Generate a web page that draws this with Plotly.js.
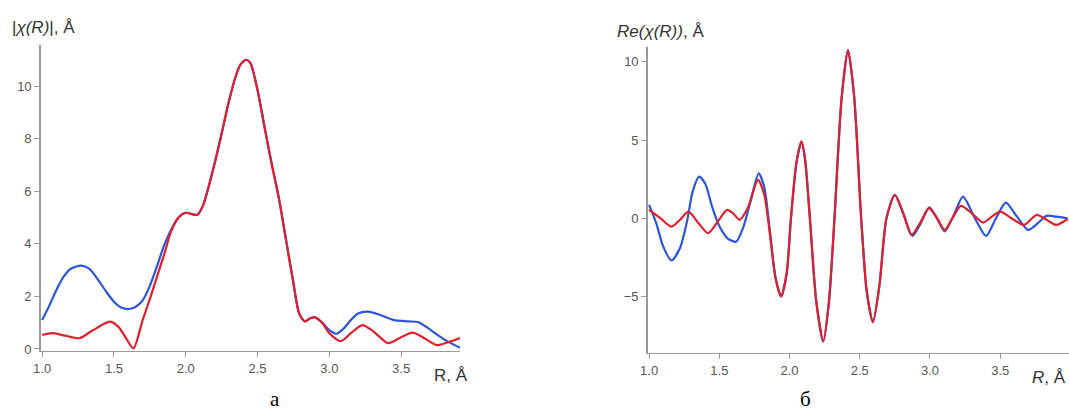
<!DOCTYPE html>
<html><head><meta charset="utf-8">
<script src="https://cdn.plot.ly/plotly-3.0.1.min.js"></script>
<style>html,body{margin:0;padding:0;background:#fff}#c{width:1069px;height:414px}</style>
</head><body><div id="c"></div>
<script>
// Panel a: |chi(R)|
const magR_blue = [1.00,1.05,1.10,1.15,1.20,1.27,1.33,1.40,1.45,1.50,1.55,1.60,1.65,1.70,1.75,1.80,1.85,1.90,1.95,2.00,2.05,2.08,2.12,2.18,2.24,2.30,2.35,2.38,2.42,2.45,2.50,2.55,2.60,2.65,2.70,2.75,2.79,2.83,2.87,2.90,2.95,3.00,3.05,3.10,3.15,3.20,3.27,3.35,3.45,3.55,3.62,3.68,3.75,3.82,3.91];
const magV_blue = [1.10,1.65,2.25,2.75,3.05,3.17,3.05,2.55,2.15,1.80,1.58,1.52,1.60,1.85,2.40,3.15,3.95,4.55,5.00,5.18,5.12,5.10,5.45,6.60,7.95,9.40,10.40,10.80,11.00,10.88,9.85,8.40,7.00,5.70,4.10,2.50,1.35,1.05,1.18,1.20,1.00,0.72,0.58,0.78,1.10,1.35,1.42,1.30,1.10,1.05,1.02,0.82,0.55,0.30,0.05];
const magR_red = [1.00,1.07,1.15,1.26,1.35,1.47,1.53,1.58,1.636,1.70,1.75,1.80,1.85,1.90,1.95,2.00,2.05,2.08,2.12,2.18,2.24,2.30,2.35,2.38,2.42,2.45,2.50,2.55,2.60,2.65,2.70,2.75,2.79,2.83,2.87,2.90,2.95,3.00,3.08,3.15,3.23,3.30,3.41,3.50,3.58,3.65,3.75,3.85,3.91];
const magV_red = [0.53,0.60,0.52,0.41,0.70,1.04,0.85,0.45,0.02,1.10,1.90,2.75,3.60,4.50,5.00,5.18,5.12,5.10,5.45,6.60,7.95,9.40,10.40,10.80,11.00,10.88,9.85,8.40,7.00,5.70,4.10,2.50,1.35,1.05,1.18,1.20,1.00,0.60,0.30,0.60,0.91,0.70,0.22,0.45,0.62,0.45,0.15,0.30,0.42];

// Panel b: Re(chi(R))
const reR_blue = [1.00,1.05,1.10,1.16,1.22,1.27,1.31,1.356,1.40,1.45,1.50,1.56,1.62,1.67,1.72,1.78,1.82,1.86,1.90,1.94,1.98,2.01,2.05,2.085,2.11,2.145,2.19,2.24,2.28,2.32,2.37,2.416,2.46,2.51,2.55,2.594,2.64,2.69,2.75,2.81,2.875,2.93,2.995,3.05,3.105,3.17,3.235,3.32,3.40,3.47,3.54,3.62,3.70,3.77,3.83,3.90,3.98];
const reV_blue = [0.85,-0.3,-1.8,-2.7,-1.9,-0.2,1.7,2.66,2.2,0.7,-0.5,-1.3,-1.5,-0.6,1.0,2.87,2.0,-0.8,-3.8,-5.0,-3.5,0.0,3.6,4.9,3.8,0.0,-5.3,-7.88,-5.4,0.0,7.6,10.75,7.8,0.0,-4.7,-6.65,-4.3,0.0,1.49,0.3,-1.13,-0.4,0.7,0.0,-0.85,0.2,1.38,0.0,-1.13,0.0,1.0,0.1,-0.75,-0.3,0.15,0.1,0.0];
const reR_red = [1.00,1.08,1.16,1.22,1.28,1.35,1.42,1.49,1.555,1.60,1.645,1.70,1.776,1.82,1.86,1.90,1.94,1.98,2.01,2.05,2.085,2.11,2.145,2.19,2.24,2.28,2.32,2.37,2.416,2.46,2.51,2.55,2.594,2.64,2.69,2.75,2.81,2.868,2.93,2.993,3.05,3.105,3.16,3.22,3.30,3.38,3.44,3.50,3.58,3.67,3.76,3.83,3.90,3.98];
const reV_red = [0.53,0.0,-0.54,-0.1,0.42,-0.3,-0.96,-0.2,0.53,0.3,-0.1,0.6,2.45,1.5,-1.0,-3.8,-5.0,-3.5,0.0,3.6,4.9,3.8,0.0,-5.3,-7.88,-5.4,0.0,7.6,10.75,7.8,0.0,-4.7,-6.65,-4.3,0.0,1.49,0.3,-1.07,-0.3,0.64,0.0,-0.75,0.0,0.79,0.3,-0.28,0.1,0.42,0.0,-0.43,0.21,-0.1,-0.43,-0.05];

const xTicks = [1.0,1.5,2.0,2.5,3.0,3.5];
const xTickText = ["1.0","1.5","2.0","2.5","3.0","3.5"];
const yTicksA = [0,2,4,6,8,10];
const yTicksB = [-5,0,5,10];

const BLUE = 'rgb(45,85,215)', RED = 'rgb(222,32,45)';
const W = 1069, H = 414;
const px = v => v / W, py = v => 1 - v / H;

const line = c => ({color: c, width: 2.2, shape: 'spline', smoothing: 0.7});
const traces = [
  {x: magR_blue, y: magV_blue, mode: 'lines', line: line(BLUE), xaxis: 'x', yaxis: 'y'},
  {x: magR_red, y: magV_red, mode: 'lines', line: line(RED), xaxis: 'x', yaxis: 'y'},
  {x: reR_blue, y: reV_blue, mode: 'lines', line: line(BLUE), xaxis: 'x2', yaxis: 'y2'},
  {x: reR_red, y: reV_red, mode: 'lines', line: line(RED), xaxis: 'x2', yaxis: 'y2'}
];

const tickFont = {family: 'Liberation Sans, Arial, sans-serif', size: 13, color: '#555'};
const axBase = {
  showgrid: false, zeroline: false, showline: true, linecolor: '#9a9a9a', linewidth: 1.5,
  ticks: 'outside', ticklen: 5, tickcolor: '#9a9a9a', tickwidth: 1, tickfont: tickFont, fixedrange: true
};

const layout = {
  width: W, height: H, margin: {l: 0, r: 0, t: 0, b: 0},
  paper_bgcolor: '#fff', plot_bgcolor: '#fff', showlegend: false,
  xaxis: Object.assign({}, axBase, {domain: [px(40.7), px(460)], range: [0.99, 3.91], tickvals: xTicks, ticktext: xTickText, anchor: 'y'}),
  yaxis: Object.assign({}, axBase, {domain: [1 - 350.7 / H, 1 - 45 / H], range: [-0.065, 11.56], tickvals: yTicksA, anchor: 'x'}),
  xaxis2: Object.assign({}, axBase, {domain: [px(647.7), 1], range: [0.99, 3.99], tickvals: xTicks, ticktext: xTickText, anchor: 'y2'}),
  yaxis2: Object.assign({}, axBase, {domain: [1 - 352.7 / H, 1 - 46.7 / H], range: [-8.6, 10.97], tickvals: yTicksB, anchor: 'x2'}),
  annotations: [
    {xref: 'paper', yref: 'paper', x: px(10), y: py(28), xanchor: 'left', yanchor: 'middle', showarrow: false,
     text: '|<i>χ(R)</i>|, Å', font: {family: 'Liberation Sans, Arial, sans-serif', size: 17, color: '#333'}},
    {xref: 'paper', yref: 'paper', x: px(615), y: py(31), xanchor: 'left', yanchor: 'middle', showarrow: false,
     text: '<i>Re(χ(R))</i>, Å', font: {family: 'Liberation Sans, Arial, sans-serif', size: 17, color: '#333'}},
    {xref: 'paper', yref: 'paper', x: px(432), y: py(375), xanchor: 'left', yanchor: 'middle', showarrow: false,
     text: 'R, Å', font: {family: 'Liberation Sans, Arial, sans-serif', size: 17, color: '#333'}},
    {xref: 'paper', yref: 'paper', x: px(1068), y: py(377), xanchor: 'right', yanchor: 'middle', showarrow: false,
     text: '<i>R</i>, Å', font: {family: 'Liberation Sans, Arial, sans-serif', size: 17, color: '#333'}},
    {xref: 'paper', yref: 'paper', x: px(275), y: py(413), xanchor: 'center', yanchor: 'bottom', showarrow: false,
     text: 'а', font: {family: 'Liberation Serif, Times New Roman, serif', size: 21, color: '#000'}},
    {xref: 'paper', yref: 'paper', x: px(805), y: py(413), xanchor: 'center', yanchor: 'bottom', showarrow: false,
     text: 'б', font: {family: 'Liberation Serif, Times New Roman, serif', size: 21, color: '#000'}}
  ]
};

Plotly.newPlot('c', traces, layout, {staticPlot: true, displayModeBar: false});
</script></body></html>
